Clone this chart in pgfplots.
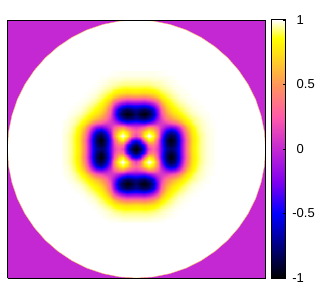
\documentclass[border=0pt]{standalone}
\usepackage{pgfplots}
\usepackage{pgfplotstable}
\usepgfplotslibrary{patchplots}
\usepackage{fontspec}
\setmainfont{Liberation Sans}
\pgfplotsset{compat=1.18}
\definecolor{bgmag}{RGB}{195,40,210}
\pgfplotstableread{
c
-1
-.85
-.45
.15
.3
.1
-.35
-.7
-.8
-.72
-.45
.02
.48
.76
.88
.94
.97
.99
1
-.85
-.65
-.32
.35
.42
.15
-.38
-.76
-.92
-.8
-.47
.02
.47
.75
.88
.94
.97
.99
1
-.45
-.32
.4
.85
.7
.25
-.4
-.8
-1
-.86
-.5
0
.45
.74
.87
.94
.97
.99
1
.15
.35
.85
1
.88
.45
-.3
-.7
-.88
-.78
-.42
.08
.5
.76
.88
.94
.97
.99
1
.3
.42
.7
.88
.72
.42
-.15
-.5
-.68
-.58
-.25
.2
.57
.79
.9
.95
.98
.99
1
.1
.15
.25
.45
.42
.25
.02
-.15
-.25
-.18
.05
.38
.68
.84
.92
.96
.98
.995
1
-.35
-.38
-.4
-.3
-.15
.02
.1
.15
.25
.33
.48
.67
.82
.9
.95
.97
.985
.995
1
-.7
-.76
-.8
-.7
-.5
-.15
.15
.38
.5
.6
.7
.81
.89
.93
.96
.98
.99
1
1
-.8
-.92
-1
-.88
-.68
-.25
.25
.5
.64
.75
.83
.89
.93
.96
.98
.99
.995
1
1
-.72
-.8
-.86
-.78
-.58
-.18
.33
.6
.75
.84
.89
.93
.96
.98
.99
.995
1
1
1
-.45
-.47
-.5
-.42
-.25
.05
.48
.7
.83
.89
.93
.96
.98
.99
.995
1
1
1
1
.02
.02
0
.08
.2
.38
.67
.81
.89
.93
.96
.98
.99
.995
1
1
1
1
1
.48
.47
.45
.5
.57
.68
.82
.89
.93
.96
.98
.99
.995
1
1
1
1
1
1
.76
.75
.74
.76
.79
.84
.9
.93
.96
.98
.99
.995
1
1
1
1
1
1
1
.88
.88
.87
.88
.9
.92
.95
.96
.98
.99
.995
1
1
1
1
1
1
1
1
.94
.94
.94
.94
.95
.96
.97
.98
.99
.995
1
1
1
1
1
1
1
1
1
.97
.97
.97
.97
.98
.98
.985
.99
.995
1
1
1
1
1
1
1
1
1
1
.99
.99
.99
.99
.99
.995
.995
1
1
1
1
1
1
1
1
1
1
1
1
1
1
1
1
1
1
1
1
1
1
1
1
1
1
1
1
1
1
1
1
}\quadrant
% the field has the symmetry of the square: the full grid mirrors the quadrant above
\pgfplotstablenew[
  create on use/c/.style={create col/assign/.code={%
    \pgfmathtruncatemacro\ci{abs(mod(\pgfplotstablerow,37)-18)}%
    \pgfmathtruncatemacro\rj{abs(floor(\pgfplotstablerow/37)-18)}%
    \pgfmathtruncatemacro\idx{\rj*19+\ci}%
    \pgfplotstablegetelem{\idx}{c}\of\quadrant
    \pgfkeyslet{/pgfplots/table/create col/next content}\pgfplotsretval
  }},
  columns={c}]{1369}\fullgrid
\pgfplotsset{
  colormap={hot}{
    rgb255(0cm)=(0,0,0);
    rgb255(5cm)=(0,0,255);
    rgb255(7.5cm)=(130,0,240);
    rgb255(10cm)=(195,40,210);
    rgb255(12.5cm)=(255,90,170);
    rgb255(15cm)=(255,150,90);
    rgb255(17.5cm)=(255,225,20);
    rgb255(18.6cm)=(255,255,0);
    rgb255(20cm)=(255,255,255)
  },
}
\begin{document}
\begin{tikzpicture}[x=1pt,y=1pt]
\path[use as bounding box] (-5.625pt,-16.5pt) rectangle ++(240pt,225pt);
\begin{axis}[
  at={(0,0)},anchor=south west,
  scale only axis,width=193.5pt,height=193.5pt,
  view={0}{90},
  xmin=-129,xmax=129,ymin=-129,ymax=129,
  xtick=\empty,ytick=\empty,
  axis on top,
  axis line style={black,line width=0.75pt},
  colormap name=hot,
  point meta min=-1,point meta max=1,
  colorbar,
  colorbar style={
    at={(1.0245,0)},anchor=south west,
    width=10.1pt,height=193.5pt,
    ytick={-1,-0.5,0,0.5,1},
    yticklabels={\llap{-}1,\llap{-}0.5,0,0.5,1},
    ytick pos=right,
    yticklabel pos=right,
    tick align=inside,
    major tick length=1.5pt,
    tick style={black,line width=.5pt},
    axis line style={black,line width=0.75pt},
    yticklabel style={font=\fontsize{9.75}{11}\selectfont,xshift=5pt},
  },
]
\addplot3[fill=bgmag,draw=none,forget plot] coordinates {(-129,-129,0)(129,-129,0)(129,129,0)(-129,129,0)} -- cycle;
\addplot3[fill=white,draw=orange!60,line width=.3pt,forget plot] coordinates {
(129,0,0)(127.9,16.8,0)(124.6,33.4,0)(119.2,49.4,0)(111.7,64.5,0)(102.3,78.5,0)(91.2,91.2,0)(78.5,102.3,0)(64.5,111.7,0)(49.4,119.2,0)(33.4,124.6,0)(16.8,127.9,0)
(0,129,0)(-16.8,127.9,0)(-33.4,124.6,0)(-49.4,119.2,0)(-64.5,111.7,0)(-78.5,102.3,0)(-91.2,91.2,0)(-102.3,78.5,0)(-111.7,64.5,0)(-119.2,49.4,0)(-124.6,33.4,0)(-127.9,16.8,0)
(-129,0,0)(-127.9,-16.8,0)(-124.6,-33.4,0)(-119.2,-49.4,0)(-111.7,-64.5,0)(-102.3,-78.5,0)(-91.2,-91.2,0)(-78.5,-102.3,0)(-64.5,-111.7,0)(-49.4,-119.2,0)(-33.4,-124.6,0)(-16.8,-127.9,0)
(0,-129,0)(16.8,-127.9,0)(33.4,-124.6,0)(49.4,-119.2,0)(64.5,-111.7,0)(78.5,-102.3,0)(91.2,-91.2,0)(102.3,-78.5,0)(111.7,-64.5,0)(119.2,-49.4,0)(124.6,-33.4,0)(127.9,-16.8,0)
} -- cycle;
\addplot3[surf,shader=interp,patch type=bilinear,mesh/rows=37,mesh/cols=37,point meta=\thisrow{c},forget plot] table[
    x index=0,y index=0,z index=0,
    x expr={4.3333*(mod(\coordindex,37)-18)},
    y expr={4.3333*(floor(\coordindex/37)-18)},
    z expr=0] {\fullgrid};
\end{axis}
\end{tikzpicture}
\end{document}
